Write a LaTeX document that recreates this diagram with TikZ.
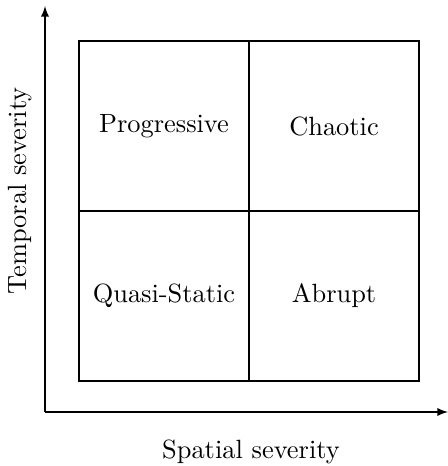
\documentclass[tikz,border=0pt]{standalone}
\usetikzlibrary{arrows}
\begin{document}
\begin{tikzpicture}[x=0.379pt,y=-0.379pt,
  cell/.style={draw,line width=0.4pt,minimum width=64.43pt,minimum height=64.43pt,inner sep=0pt,font=\fontsize{10}{12}\selectfont},
  axis/.style={-latex,line width=0.4pt},
  axlabel/.style={font=\fontsize{10}{12}\selectfont}]
\useasboundingbox (0,0) rectangle (447,466);
\coordinate (O) at (45,412);
\coordinate (T) at (45,6);
\coordinate (R) at (448,412);
\draw[axis] (O) -- (T);
\draw[axis] (O) -- (R);
\node[cell] (pg) at (164,126) {Progressive};
\node[cell] (ch) at (334,126) {Chaotic};
\node[cell] (qs) at (164,296) {Quasi-Static};
\node[cell] (ab) at (334,296) {Abrupt};
\node[axlabel,rotate=90] (ty) at (20,191) {Temporal severity};
\node[axlabel] (sx) at (251,452) {Spatial severity};
\end{tikzpicture}
\end{document}
